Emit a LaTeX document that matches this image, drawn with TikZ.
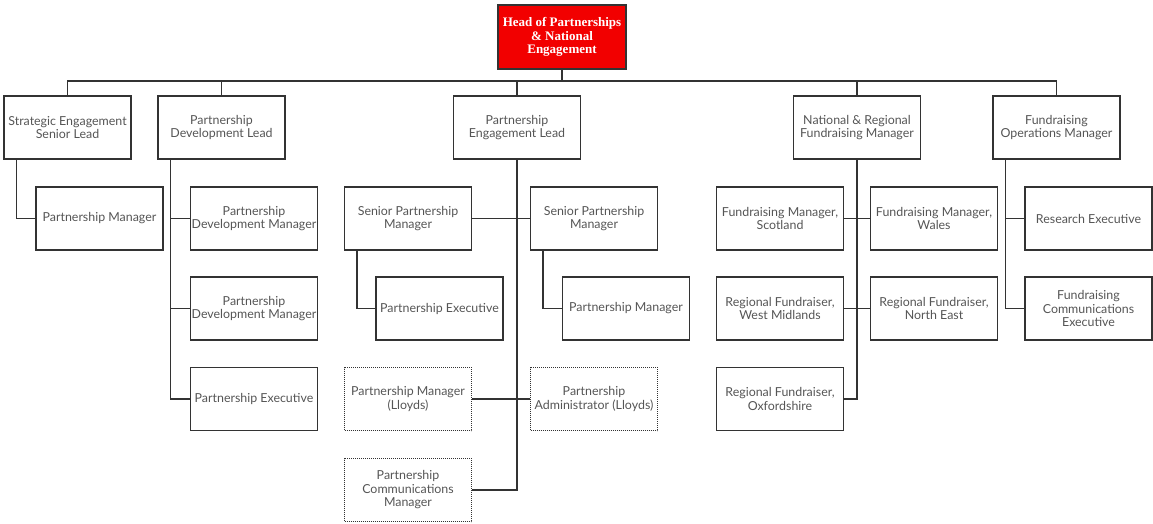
\documentclass[tikz,border=0pt]{standalone}
\usepackage{fontspec}
\setmainfont{Lato}
\newfontfamily\headfont{Liberation Serif}
\usetikzlibrary{positioning}
\definecolor{ln}{HTML}{333333}
\definecolor{tx}{HTML}{555555}
\definecolor{hd}{HTML}{F20000}
\begin{document}
\begin{tikzpicture}[x=1pt,y=-1pt,
  box/.style={draw=ln,line width=1.4pt,minimum width=127pt,minimum height=63pt,
    inner sep=1pt,align=center,text=tx,font=\fontsize{12.4}{13.5}\selectfont},
  dbox/.style={box,line width=0.9pt,dash pattern=on 1pt off 1pt},
  link/.style={draw=ln,line width=1.4pt}]
\useasboundingbox (0,0) rectangle (1153,523);
% head
\node[box,fill=hd,minimum width=128pt,minimum height=64pt,text=white,
  font=\headfont\bfseries\fontsize{13}{13.5}\selectfont] (head) at (562,37)
  {Head of Partnerships\\\& National\\Engagement};
% level 1
\node[box] (strat) at (67.5,127.5) {Strategic Engagement\\Senior Lead};
\node[box] (pdl) at (221.5,127.5) {Partnership\\Development Lead};
\node[box] (pel) at (517,127.5) {Partnership\\Engagement Lead};
\node[box] (nrfm) at (857,127.5) {National \& Regional\\Fundraising Manager};
\node[box] (fom) at (1056.5,127.5) {Fundraising\\Operations Manager};
% row 2
\node[box] (pm1) at (99.5,218.5) {Partnership Manager};
\node[box] (pdm1) at (254,218.5) {Partnership\\Development Manager};
\node[box] (spm1) at (408,218.5) {Senior Partnership\\Manager};
\node[box] (spm2) at (594,218.5) {Senior Partnership\\Manager};
\node[box] (fms) at (780,218.5) {Fundraising Manager,\\Scotland};
\node[box] (fmw) at (934,218.5) {Fundraising Manager,\\Wales};
\node[box] (re) at (1088.5,218.5) {Research Executive};
% row 3
\node[box] (pdm2) at (254,308.5) {Partnership\\Development Manager};
\node[box] (pe1) at (439.5,308.5) {Partnership Executive};
\node[box] (pm2) at (626,308.5) {Partnership Manager};
\node[box] (rfwm) at (780,308.5) {Regional Fundraiser,\\West Midlands};
\node[box] (rfne) at (934,308.5) {Regional Fundraiser,\\North East};
\node[box] (fce) at (1088.5,308.5) {Fundraising\\Communications\\Executive};
% row 4
\node[box] (pe2) at (254,399) {Partnership Executive};
\node[dbox] (pml) at (408,399) {Partnership Manager\\(Lloyds)};
\node[dbox] (pal) at (594,399) {Partnership\\Administrator (Lloyds)};
\node[box] (rfox) at (780,399) {Regional Fundraiser,\\Oxfordshire};
% row 5
\node[dbox] (pcm) at (408,490) {Partnership\\Communications\\Manager};
% bus
\coordinate (bus) at (562,81);
\draw[link] (head.south) -- (head.south |- bus);
\draw[link] (strat.north) |- (bus) -| (fom.north);
\draw[link] (pdl.north) -- (pdl.north |- bus);
\draw[link] (pel.north) -- (pel.north |- bus);
\draw[link] (nrfm.north) -- (nrfm.north |- bus);
% strategic
\coordinate (sv) at ([xshift=13pt]strat.south west);
\draw[link] (sv) |- (pm1.west);
% pdl
\coordinate (dv) at ([xshift=13pt]pdl.south west);
\draw[link] (dv) |- (pe2.west);
\draw[link] (pdm1.west) -- (pdm1.west -| dv);
\draw[link] (pdm2.west) -- (pdm2.west -| dv);
% pel
\draw[link] (pel.south) |- (pcm.east);
\draw[link] (spm1.east) -- (spm2.west);
\draw[link] (pml.east) -- (pal.west);
\coordinate (s1v) at ([xshift=13pt]spm1.south west);
\draw[link] (s1v) |- (pe1.west);
\coordinate (s2v) at ([xshift=13pt]spm2.south west);
\draw[link] (s2v) |- (pm2.west);
% nrfm
\draw[link] (nrfm.south) |- (rfox.east);
\draw[link] (fms.east) -- (fmw.west);
\draw[link] (rfwm.east) -- (rfne.west);
% fom
\coordinate (fv) at ([xshift=13pt]fom.south west);
\draw[link] (fv) |- (fce.west);
\draw[link] (re.west) -- (re.west -| fv);
\end{tikzpicture}
\end{document}
